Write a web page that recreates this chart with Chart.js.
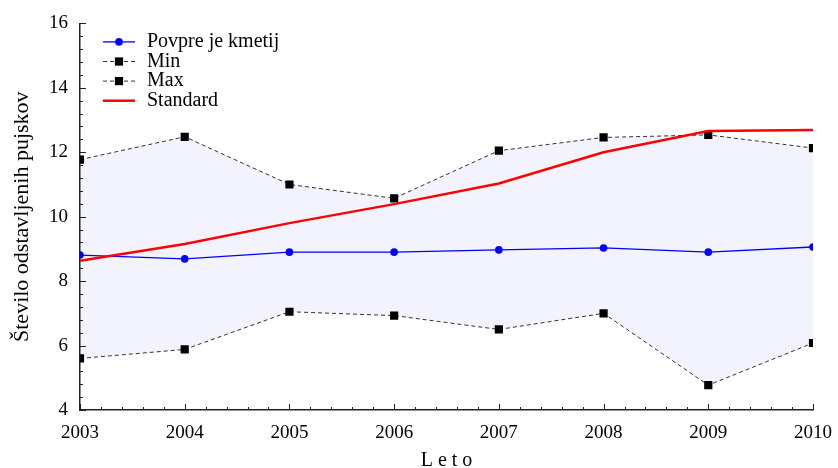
<!DOCTYPE html>
<html>
<head>
<meta charset="utf-8">
<script src="https://cdn.jsdelivr.net/npm/chart.js@4/dist/chart.umd.min.js"></script>
<style>
  html, body { margin: 0; padding: 0; background: #fff; }
  #wrap { width: 838px; height: 468px; }
</style>
</head>
<body>
<div id="wrap"><canvas id="c" width="838" height="468"></canvas></div>
<script>
// Leta opazovanja
const years = [2003, 2004, 2005, 2006, 2007, 2008, 2009, 2010];
// Povprečno število odstavljenih pujskov na kmetijo
const meanValues = [8.81, 8.69, 8.90, 8.90, 8.97, 9.03, 8.90, 9.06];
// Najmanjša vrednost po letih
const minValues = [5.60, 5.88, 7.05, 6.93, 6.50, 7.00, 4.77, 6.08];
// Največja vrednost po letih
const maxValues = [11.77, 12.48, 11.00, 10.57, 12.05, 12.46, 12.54, 12.13];
// Standard
const standardValues = [8.63, 9.15, 9.80, 10.39, 11.03, 12.00, 12.66, 12.69];
// Oznake na oseh
const yTicks = [4, 6, 8, 10, 12, 14, 16];
const seriesNames = ['Povpre je kmetij', 'Min', 'Max', 'Standard'];

const FONT = "'Liberation Serif', 'Times New Roman', serif";

const toXY = (vals) => vals.map((v, i) => ({ x: years[i], y: v }));

// Notranje (kratke in dolge) oznake na oseh
const innerTicks = {
  id: 'innerTicks',
  beforeDatasetsDraw(chart) {
    const { ctx, scales: { x, y }, chartArea: a } = chart;
    ctx.save();
    ctx.strokeStyle = '#222';
    ctx.lineWidth = 1;
    // y os: glavne na 2, pomožne na 0.4
    const yMin = yTicks[0], yMax = yTicks[yTicks.length - 1];
    for (let k = 0; k <= (yMax - yMin) / 0.4 + 0.001; k++) {
      const v = yMin + k * 0.4;
      const major = Math.abs(v / 2 - Math.round(v / 2)) < 1e-6;
      const py = Math.round(y.getPixelForValue(v)) + 0.5;
      ctx.beginPath();
      ctx.moveTo(a.left, py);
      ctx.lineTo(a.left + (major ? 6 : 3), py);
      ctx.stroke();
    }
    // x os: glavne na letih, pomožne na 0.2
    for (let k = 0; k <= (years[years.length - 1] - years[0]) / 0.2 + 0.001; k++) {
      const v = years[0] + k * 0.2;
      const major = Math.abs(v - Math.round(v)) < 1e-6;
      const px = Math.round(x.getPixelForValue(v)) + 0.5;
      ctx.beginPath();
      ctx.moveTo(px, a.bottom);
      ctx.lineTo(px, a.bottom - (major ? 6 : 3));
      ctx.stroke();
    }
    ctx.restore();
  }
};

// Legenda v zgornjem levem kotu risalne površine
const insideLegend = {
  id: 'insideLegend',
  afterDatasetsDraw(chart) {
    const { ctx, chartArea: a } = chart;
    const x0 = a.left + 23, x1 = a.left + 55, tx = a.left + 67;
    let yy = a.top + 18.5;
    ctx.save();
    ctx.font = '20px ' + FONT;
    ctx.textBaseline = 'middle';
    chart.data.datasets.forEach((ds) => {
      ctx.strokeStyle = ds.borderColor;
      ctx.lineWidth = ds.borderWidth;
      ctx.setLineDash(ds.borderDash || []);
      ctx.beginPath();
      ctx.moveTo(x0, yy);
      ctx.lineTo(x1, yy);
      ctx.stroke();
      ctx.setLineDash([]);
      const mx = (x0 + x1) / 2;
      if (ds.pointRadius > 0) {
        ctx.fillStyle = ds.pointBackgroundColor;
        if (ds.pointStyle === 'rect') {
          const s = ds.pointRadius * Math.SQRT1_2;
          ctx.fillRect(mx - s, yy - s, 2 * s, 2 * s);
        } else {
          ctx.beginPath();
          ctx.arc(mx, yy, ds.pointRadius, 0, Math.PI * 2);
          ctx.fill();
        }
      }
      ctx.fillStyle = '#000';
      ctx.fillText(ds.label, tx, yy);
      yy += 19.6;
    });
    ctx.restore();
  }
};

new Chart(document.getElementById('c'), {
  type: 'line',
  data: {
    datasets: [
      {
        label: seriesNames[0],
        data: toXY(meanValues),
        borderColor: '#0000ff',
        backgroundColor: '#0000ff',
        pointBackgroundColor: '#0000ff',
        pointBorderWidth: 0,
        borderWidth: 1.3,
        pointRadius: 3.8,
        pointStyle: 'circle',
        fill: false,
        order: 1
      },
      {
        label: seriesNames[1],
        data: toXY(minValues),
        borderColor: '#333',
        pointBackgroundColor: '#000',
        pointBorderWidth: 0,
        borderWidth: 1,
        borderDash: [4, 3],
        pointRadius: 5.8,
        pointStyle: 'rect',
        fill: false,
        order: 2
      },
      {
        label: seriesNames[2],
        data: toXY(maxValues),
        borderColor: '#333',
        pointBackgroundColor: '#000',
        pointBorderWidth: 0,
        borderWidth: 1,
        borderDash: [4, 3],
        pointRadius: 5.8,
        pointStyle: 'rect',
        fill: { target: 1 },
        backgroundColor: '#f3f3fd',
        order: 2
      },
      {
        label: seriesNames[3],
        data: toXY(standardValues),
        borderColor: '#ff0000',
        pointBackgroundColor: '#ff0000',
        borderWidth: 2.5,
        pointRadius: 0,
        fill: false,
        order: 0
      }
    ]
  },
  options: {
    responsive: false,
    animation: false,
    events: [],
    layout: { padding: { top: 21, right: 25, left: 0, bottom: 0 } },
    plugins: {
      legend: { display: false },
      tooltip: { enabled: false },
      filler: { drawTime: 'beforeDraw' }
    },
    scales: {
      x: {
        type: 'linear',
        min: years[0],
        max: years[years.length - 1],
        grid: { display: false, drawTicks: false },
        border: { display: true, color: '#222', width: 1.5 },
        ticks: {
          stepSize: 1,
          padding: 12,
          color: '#000',
          font: { family: FONT, size: 19 },
          maxRotation: 0,
          callback: (v) => String(v)
        },
        title: {
          display: true,
          text: 'L e t o',
          color: '#000',
          font: { family: FONT, size: 20 },
          padding: { top: 0, bottom: -5 }
        },
        afterFit: (s) => { s.height = 58; s.paddingLeft = 0; s.paddingRight = 20; }
      },
      y: {
        type: 'linear',
        min: yTicks[0],
        max: yTicks[yTicks.length - 1],
        grid: { display: false, drawTicks: false },
        border: { display: true, color: '#222', width: 1.5 },
        afterBuildTicks: (s) => { s.ticks = yTicks.map((v) => ({ value: v })); },
        ticks: {
          padding: 12,
          color: '#000',
          font: { family: FONT, size: 19 },
          callback: (v) => String(v)
        },
        title: {
          display: true,
          text: 'Število odstavljenih pujskov',
          color: '#000',
          font: { family: FONT, size: 22 },
          padding: { top: 9, bottom: 0 }
        },
        afterFit: (s) => { s.width = 80; }
      }
    }
  },
  plugins: [innerTicks, insideLegend]
});
</script>
</body>
</html>
